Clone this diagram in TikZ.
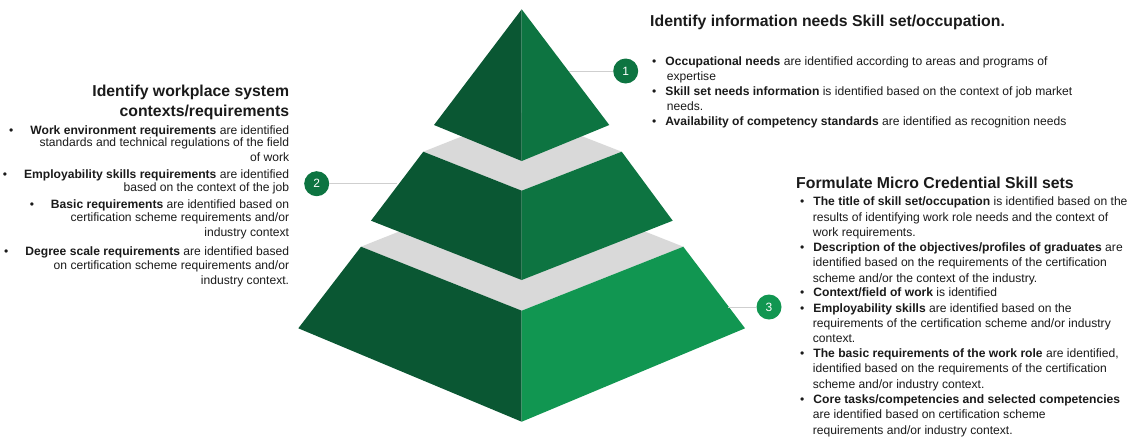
\documentclass[tikz,border=0pt]{standalone}
\usepackage{fontspec}
\setmainfont{Liberation Sans}
\definecolor{gdark}{HTML}{0A5733}
\definecolor{gmid}{HTML}{0D7441}
\definecolor{gbright}{HTML}{119651}
\definecolor{band}{HTML}{D9D9D9}
\definecolor{leadc}{HTML}{CFCFCF}
\definecolor{txt}{HTML}{1A1A1A}
\tikzset{
  body/.style={font=\fontsize{12.1}{14}\selectfont, inner sep=0pt, text=txt},
  ttl/.style={font=\bfseries\fontsize{15.8}{18}\selectfont, inner sep=0pt, text=txt},
  num/.style={circle, minimum size=25pt, inner sep=0pt, text=white, font=\fontsize{12}{13}\selectfont},
  lead/.style={draw=leadc, line width=1pt},
}
\newcommand{\bul}{\textbullet\hspace{9pt}}
\newcommand{\bull}{\textbullet\hspace{17pt}}
\begin{document}
\begin{tikzpicture}[x=1pt,y=-1pt]
\useasboundingbox (0,0) rectangle (1141,437);
% bottom tier
\fill[band] (361,246.7) -- (521.7,182.7) -- (683.3,246.7) -- (521.7,310.7) -- cycle;
\fill[gdark] (361,246.7) -- (521.7,310.7) -- (521.7,421.7) -- (298.3,328.3) -- cycle;
\fill[gbright] (683.3,246.7) -- (521.7,310.7) -- (521.7,421.7) -- (745,328.3) -- cycle;
% middle tier
\fill[band] (423.3,151.7) -- (521.7,112.7) -- (621.7,151.7) -- (521.7,190.7) -- cycle;
\fill[gdark] (423.3,151.7) -- (521.7,190.7) -- (521.7,280) -- (371,220.7) -- cycle;
\fill[gmid] (621.7,151.7) -- (521.7,190.7) -- (521.7,280) -- (672.7,220.7) -- cycle;
% top
\fill[gdark] (521.7,9.3) -- (434,125) -- (521.7,161) -- cycle;
\fill[gmid] (521.7,9.3) -- (609.3,125) -- (521.7,161) -- cycle;

% markers
\node[num, fill=gmid] (c1) at (625.7,71) {1};
\node[num, fill=gmid] (c2) at (316.7,183.7) {2};
\node[num, fill=gbright] (c3) at (769,307) {3};
\coordinate (l1) at (569.3,71);
\coordinate (l2) at (396.7,183.7);
\coordinate (l3) at (728.3,307);
\draw[lead] (l1) -- (c1);
\draw[lead] (l2) -- (c2);
\draw[lead] (l3) -- (c3);

% block 1
\node[ttl, anchor=base west] (h1) at (650,26.7) {Identify information needs Skill set/occupation.};
\node[body, anchor=base west] (a1) at (652,65) {\bul\textbf{Occupational needs} are identified according to areas and programs of};
\node[body, anchor=base west] (a2) at (666.7,80) {expertise};
\node[body, anchor=base west] (a3) at (652,95) {\bul\textbf{Skill set needs information} is identified based on the context of job market};
\node[body, anchor=base west] (a4) at (666.7,110) {needs.};
\node[body, anchor=base west] (a5) at (652,125.7) {\bul\textbf{Availability of competency standards} are identified as recognition needs};

% block 2
\node[ttl, anchor=base east] (h2a) at (289.3,96.7) {Identify workplace system};
\node[ttl, anchor=base east] (h2b) at (289.3,116.7) {contexts/requirements};
\node[body, anchor=base east] (b1) at (289.3,134.3) {\bull\textbf{Work environment requirements} are identified};
\node[body, anchor=base east] (b2) at (289.3,146.7) {standards and technical regulations of the field};
\node[body, anchor=base east] (b3) at (289.3,161.7) {of work};
\node[body, anchor=base east] (b4) at (289.3,178.3) {\bull\textbf{Employability skills requirements} are identified};
\node[body, anchor=base east] (b5) at (289.3,191.7) {based on the context of the job};
\node[body, anchor=base east] (b6) at (289.3,208.3) {\bull\textbf{Basic requirements} are identified based on};
\node[body, anchor=base east] (b7) at (289.3,221.7) {certification scheme requirements and/or};
\node[body, anchor=base east] (b8) at (289.3,236.7) {industry context};
\node[body, anchor=base east] (b9) at (289.3,255.7) {\bull\textbf{Degree scale requirements} are identified based};
\node[body, anchor=base east] (b10) at (289.3,269) {on certification scheme requirements and/or};
\node[body, anchor=base east] (b11) at (289.3,284) {industry context.};

% block 3
\node[ttl, anchor=base west] (h3) at (796,188.3) {Formulate Micro Credential Skill sets};
\node[body, anchor=base west] (d1) at (800,205.5) {\bul\textbf{The title of skill set/occupation} is identified based on the};
\node[body, anchor=base west] (d2) at (812.7,221) {results of identifying work role needs and the context of};
\node[body, anchor=base west] (d3) at (812.7,236) {work requirements.};
\node[body, anchor=base west] (d4) at (800,251.7) {\bul\textbf{Description of the objectives/profiles of graduates} are};
\node[body, anchor=base west] (d5) at (812.7,266.7) {identified based on the requirements of the certification};
\node[body, anchor=base west] (d6) at (812.7,282) {scheme and/or the context of the industry.};
\node[body, anchor=base west] (d7) at (800,296) {\bul\textbf{Context/field of work} is identified};
\node[body, anchor=base west] (d8) at (800,312) {\bul\textbf{Employability skills} are identified based on the};
\node[body, anchor=base west] (d9) at (812.7,327) {requirements of the certification scheme and/or industry};
\node[body, anchor=base west] (d10) at (812.7,342) {context.};
\node[body, anchor=base west] (d11) at (800,357.7) {\bul\textbf{The basic requirements of the work role} are identified,};
\node[body, anchor=base west] (d12) at (812.7,372.7) {identified based on the requirements of the certification};
\node[body, anchor=base west] (d13) at (812.7,388) {scheme and/or industry context.};
\node[body, anchor=base west] (d14) at (800,403.7) {\bul\textbf{Core tasks/competencies and selected competencies}};
\node[body, anchor=base west] (d15) at (812.7,418.7) {are identified based on certification scheme};
\node[body, anchor=base west] (d16) at (812.7,434.3) {requirements and/or industry context.};
\end{tikzpicture}
\end{document}
